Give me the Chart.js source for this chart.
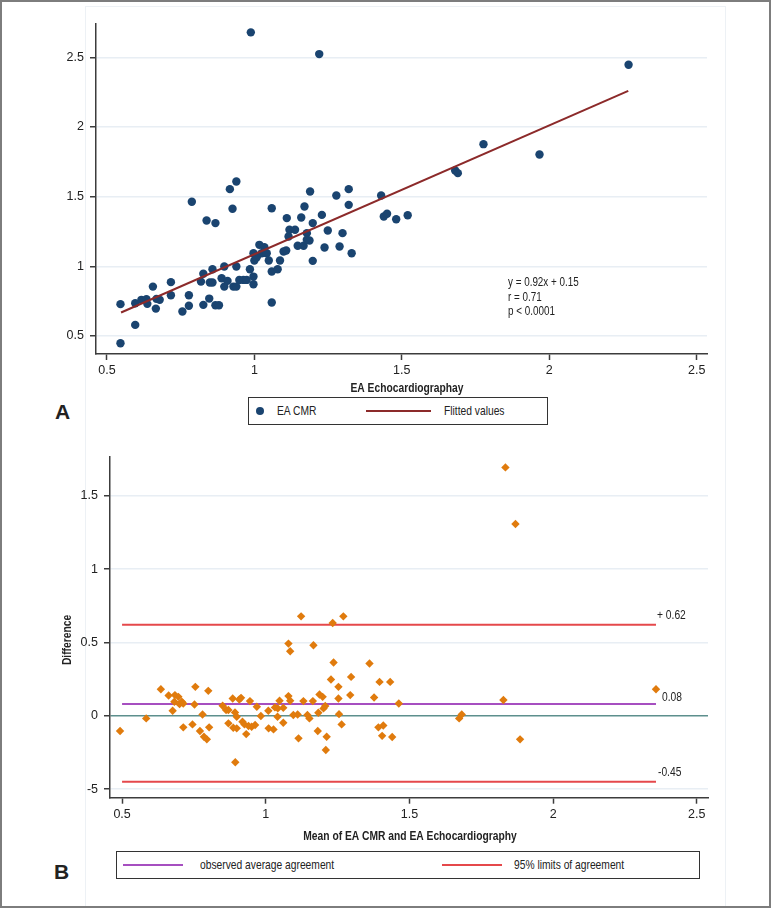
<!DOCTYPE html>
<html>
<head>
<meta charset="utf-8">
<script src="https://cdn.jsdelivr.net/npm/chart.js@4.4.1/dist/chart.umd.min.js"></script>
<style>
  body { margin: 0; background: #fff; }
  #page { position: relative; width: 771px; height: 908px; overflow: hidden; background: #fff;
          font-family: "Liberation Sans", Arial, sans-serif; color: #222; }
  .abs { position: absolute; }
  .frame { left: 0; top: 0; width: 771px; height: 908px; box-sizing: border-box; border: 2px solid #7d7d7d; pointer-events: none; }
  .region { left: 85px; top: 6px; width: 641px; height: 902px; box-sizing: border-box; border: 1px solid #edf1f5; }
  .legend { box-sizing: border-box; border: 1.5px solid #333; background: #fff; }
  .lg-text { font-size: 13px; line-height: 16px; white-space: nowrap; transform: scaleX(0.79); transform-origin: 0 50%; }
  .lg-line { height: 2px; }
  .panel { font-weight: bold; font-size: 21px; }
</style>
</head>
<body>
<div id="page">
  <div class="abs region"></div>
  <div class="abs" style="left:0;top:0;width:771px;height:400px;"><canvas id="chartA"></canvas></div>
  <div class="abs" style="left:0;top:440px;width:771px;height:405px;"><canvas id="chartB"></canvas></div>

  <div class="abs panel" style="left:55px;top:400px;">A</div>
  <div class="abs legend" style="left:248px;top:397px;width:300px;height:28px;">
    <div class="abs" style="left:7px;top:9px;width:8px;height:8px;border-radius:50%;background:#1a4470;"></div>
    <div class="abs lg-text" style="left:28px;top:5px;">EA CMR</div>
    <div class="abs lg-line" style="left:117px;top:12px;width:65px;background:#8c2a2a;"></div>
    <div class="abs lg-text" style="left:195px;top:5px;">Flitted values</div>
  </div>

  <div class="abs panel" style="left:54px;top:860px;">B</div>
  <div class="abs legend" style="left:116px;top:851px;width:584px;height:28px;">
    <div class="abs lg-line" style="left:6px;top:12px;width:60px;background:#a64fc0;"></div>
    <div class="abs lg-text" style="left:83px;top:5px;">observed average agreement</div>
    <div class="abs lg-line" style="left:325px;top:12px;width:60px;background:#e5484b;"></div>
    <div class="abs lg-text" style="left:397px;top:5px;">95% limits of agreement</div>
  </div>
  <div class="abs frame"></div>
</div>

<script>
// ---- panel A: EA CMR vs EA Echocardiography ----
const echoEA = [0.988, 1.22, 0.546, 0.546, 0.596, 0.596, 0.617, 0.634, 0.637, 0.656, 0.668, 0.679, 0.666,
  0.717, 0.717, 0.756, 0.778, 0.778, 0.788, 0.827, 0.819, 0.827, 0.838, 0.847, 0.849, 0.858, 0.858, 0.868,
  0.868, 0.88, 0.889, 0.898, 0.898, 0.909, 0.917, 0.926, 0.929, 0.939, 0.939, 0.939, 0.949, 0.963, 0.974,
  0.985, 0.997, 0.997, 0.997, 1.0, 1.008, 1.017, 1.025, 1.034, 1.042, 1.049, 1.059, 1.059, 1.059, 1.079,
  1.087, 1.099, 1.108, 1.11, 1.116, 1.119, 1.138, 1.147, 1.159, 1.17, 1.167, 1.178, 1.178, 1.187, 1.189,
  1.198, 1.198, 1.229, 1.238, 1.249, 1.278, 1.289, 1.299, 1.32, 1.32, 1.33, 1.43, 1.439, 1.45, 1.481,
  1.52, 1.681, 1.69, 1.777, 1.967, 2.269];
const cmrEA = [2.68, 2.524, 0.728, 0.447, 0.579, 0.735, 0.759, 0.763, 0.73, 0.854, 0.766, 0.759, 0.696,
  0.886, 0.792, 0.675, 0.792, 0.716, 1.463, 0.946, 0.89, 0.723, 1.329, 0.768, 0.883, 0.979, 0.883, 1.31,
  0.72, 0.72, 0.914, 0.998, 0.854, 0.895, 1.554, 1.413, 0.854, 1.609, 0.998, 0.854, 0.902, 0.902, 0.902,
  0.979, 0.926, 1.094, 0.871, 1.041, 1.065, 1.154, 1.094, 1.137, 1.094, 1.041, 1.417, 0.962, 0.74, 0.979,
  1.041, 1.106, 1.113, 1.346, 1.214, 1.262, 1.262, 1.147, 1.35, 1.429, 1.147, 1.238, 1.19, 1.185, 1.537,
  1.039, 1.31, 1.369, 1.135, 1.257, 1.508, 1.142, 1.238, 1.554, 1.441, 1.094, 1.508, 1.357, 1.377, 1.338,
  1.367, 1.688, 1.669, 1.877, 1.803, 2.447];
const fitX = [0.548, 2.268];
const fitY = [0.668, 2.26];
const axisAX = [0.5, 1, 1.5, 2, 2.5];
const axisAY = [0.5, 1, 1.5, 2, 2.5];
const statsLines = ['y = 0.92x + 0.15', 'r = 0.71', 'p < 0.0001'];

// ---- panel B: Bland-Altman ----
const meanEA = [0.493, 0.584, 0.635, 0.662, 0.676, 0.684, 0.682, 0.696, 0.7, 0.708, 0.713, 0.713, 0.745,
  0.752, 0.755, 0.771, 0.78, 0.785, 0.795, 0.8, 0.803, 0.85, 0.862, 0.87, 0.87, 0.885, 0.887, 0.893,
  0.894, 0.899, 0.899, 0.908, 0.914, 0.919, 0.926, 0.932, 0.94, 0.945, 0.951, 0.963, 0.969, 0.983,
  1.009, 1.01, 1.027, 1.032, 1.041, 1.042, 1.048, 1.061, 1.061, 1.079, 1.085, 1.079, 1.085, 1.096,
  1.114, 1.111, 1.123, 1.131, 1.145, 1.152, 1.166, 1.164, 1.181, 1.183, 1.187, 1.198, 1.201, 1.209,
  1.207, 1.212, 1.227, 1.233, 1.236, 1.253, 1.253, 1.255, 1.264, 1.27, 1.297, 1.294, 1.361, 1.377,
  1.392, 1.396, 1.405, 1.409, 1.433, 1.44, 1.463, 1.673, 1.682, 1.827, 1.834, 1.869, 1.885, 2.358];
const diffEA = [-0.104, -0.018, 0.181, 0.138, 0.034, 0.141, 0.095, 0.129, 0.079, 0.095, 0.084, -0.079,
  -0.059, 0.077, 0.197, -0.104, 0.009, -0.143, -0.161, 0.17, -0.079, 0.068, 0.039, 0.039, -0.052, 0.118,
  -0.082, 0.023, -0.317, -0.007, -0.086, 0.111, 0.122, -0.041, -0.059, -0.125, -0.07, 0.1, -0.075,
  -0.063, 0.061, -0.002, 0.034, -0.086, -0.093, 0.057, -0.007, 0.05, 0.102, -0.048, 0.054, 0.492, 0.44,
  0.134, 0.102, 0.005, -0.154, 0.009, 0.678, 0.1, 0.005, -0.018, 0.481, 0.1, -0.104, 0.02, 0.145, 0.129,
  0.05, -0.234, 0.066, -0.143, 0.247, 0.633, 0.363, 0.197, 0.118, 0.011, -0.059, 0.678, 0.265, 0.141,
  0.356, 0.125, -0.079, 0.231, -0.137, -0.066, 0.231, -0.145, 0.084, -0.018, 0.009, 0.107, 1.694, 1.308,
  -0.161, 0.181];
const meanDiff = 0.08;
const limitsOfAgreement = [0.62, -0.45];
const refLineX = [0.5, 2.358];
const limitLabels = ['+ 0.62', '0.08', '-0.45'];
const axisBX = [0.5, 1, 1.5, 2, 2.5];
const axisBY = [-0.5, 0, 0.5, 1, 1.5];
const axisBYLabels = ['-5', '0', '0.5', '1', '1.5'];

const FONT = '"Liberation Sans", Arial, sans-serif';
Chart.defaults.font.family = FONT;
Chart.defaults.font.size = 12.5;
Chart.defaults.color = '#222';
Chart.defaults.animation = false;

const AXIS = '#3c3c3c';
const GRID = '#e8eef4';
const NARROW = 0.79; // the original uses a condensed face

// draws free text (titles, regression stats, limit labels), squeezed horizontally
const textMarks = {
  id: 'textMarks',
  afterDatasetsDraw(chart, args, opts) {
    const ctx = chart.ctx;
    const xs = chart.scales.x, ys = chart.scales.y;
    (opts.items || []).forEach(it => {
      ctx.save();
      ctx.font = it.font || ('13px ' + FONT);
      ctx.fillStyle = '#222';
      ctx.textAlign = it.align || 'left';
      ctx.textBaseline = 'middle';
      const px = it.px != null ? it.px : xs.getPixelForValue(it.x) + (it.dx || 0);
      const py = it.py != null ? it.py : ys.getPixelForValue(it.y) + (it.dy || 0);
      ctx.translate(px, py);
      if (it.rotate) ctx.rotate(it.rotate);
      ctx.scale(NARROW, 1);
      ctx.fillText(it.text, 0, 0);
      ctx.restore();
    });
  }
};

function setTicks(values) {
  return scale => { scale.ticks = values.map(v => ({ value: v })); };
}

function tickLabel(values, labels) {
  return (v, i) => labels ? labels[i] : String(v);
}

// ---- chart A ----
new Chart(document.getElementById('chartA'), {
  type: 'scatter',
  data: {
    datasets: [
      {
        label: 'EA CMR',
        data: echoEA.map((x, i) => ({ x: x, y: cmrEA[i] })),
        pointStyle: 'circle',
        pointRadius: 4.2,
        backgroundColor: '#1a4470',
        borderWidth: 0,
        order: 1
      },
      {
        type: 'line',
        label: 'Flitted values',
        data: fitX.map((x, i) => ({ x: x, y: fitY[i] })),
        borderColor: '#8c2a2a',
        borderWidth: 2,
        pointRadius: 0,
        order: 0
      }
    ]
  },
  options: {
    responsive: true,
    maintainAspectRatio: false,
    layout: { padding: { left: 0, right: 64, top: 24, bottom: 0 } },
    plugins: {
      legend: { display: false },
      tooltip: { enabled: false },
      textMarks: {
        items: statsLines.map((t, i) => ({ text: t, x: 1.86, y: 0.88, dy: i * 14.5, font: '12.5px ' + FONT }))
          .concat([{ text: 'EA Echocardiographay', px: 407, py: 388, align: 'center', font: 'bold 13px ' + FONT }])
      }
    },
    scales: {
      x: {
        type: 'linear', min: 0.463, max: 2.535,
        afterBuildTicks: setTicks(axisAX),
        afterFit: s => { s.height = 46; },
        grid: { drawOnChartArea: false, tickLength: 6, tickColor: AXIS, tickWidth: 1.5 },
        border: { display: true, color: AXIS, width: 1.5 },
        ticks: { padding: 3, callback: tickLabel(axisAX) }
      },
      y: {
        type: 'linear', min: 0.37, max: 2.74,
        afterBuildTicks: setTicks(axisAY),
        afterFit: s => { s.width = 96; },
        grid: { color: GRID, lineWidth: 1.5, tickLength: 6, tickColor: AXIS, tickWidth: 1.5 },
        border: { display: true, color: AXIS, width: 1.5 },
        ticks: { padding: 6, callback: tickLabel(axisAY) }
      }
    }
  },
  plugins: [textMarks]
});

// ---- chart B ----
const refLines = [
  { y: limitsOfAgreement[0], color: '#e5484b' },
  { y: meanDiff, color: '#a64fc0' },
  { y: limitsOfAgreement[1], color: '#e5484b' }
];

new Chart(document.getElementById('chartB'), {
  type: 'scatter',
  data: {
    datasets: [
      {
        label: 'Difference',
        data: meanEA.map((x, i) => ({ x: x, y: diffEA[i] })),
        pointStyle: 'rectRot',
        pointRadius: 4.2,
        backgroundColor: '#e07b0d',
        borderWidth: 0,
        order: 0
      }
    ].concat(refLines.map(r => ({
      type: 'line',
      data: refLineX.map(x => ({ x: x, y: r.y })),
      borderColor: r.color,
      borderWidth: 2,
      pointRadius: 0,
      order: 1
    })))
  },
  options: {
    responsive: true,
    maintainAspectRatio: false,
    layout: { padding: { left: 0, right: 63, top: 17, bottom: 0 } },
    plugins: {
      legend: { display: false },
      tooltip: { enabled: false },
      textMarks: {
        items: [
          { text: limitLabels[0], x: refLineX[1], y: limitsOfAgreement[0], dx: 1, dy: -9 },
          { text: limitLabels[1], x: refLineX[1], y: meanDiff, dx: 6, dy: -7 },
          { text: limitLabels[2], x: refLineX[1], y: limitsOfAgreement[1], dx: 2, dy: -9 },
          { text: 'Difference', px: 67, py: 200, rotate: -Math.PI / 2, align: 'center', font: 'bold 13px ' + FONT },
          { text: 'Mean of EA CMR and EA Echocardiography', px: 410, py: 396, align: 'center', font: 'bold 13px ' + FONT }
        ]
      }
    },
    scales: {
      x: {
        type: 'linear', min: 0.458, max: 2.539,
        afterBuildTicks: setTicks(axisBX),
        afterFit: s => { s.height = 47.3; },
        grid: { drawOnChartArea: false, tickLength: 6, tickColor: AXIS, tickWidth: 1.5 },
        border: { display: true, color: AXIS, width: 1.5 },
        ticks: { padding: 3, callback: tickLabel(axisBX) }
      },
      y: {
        type: 'linear', min: -0.559, max: 1.765,
        afterBuildTicks: setTicks(axisBY),
        afterFit: s => { s.width = 110; },
        grid: {
          color: c => (c.tick && c.tick.value === 0) ? '#5d8f8d' : GRID,
          lineWidth: 1.5, tickLength: 6, tickColor: AXIS, tickWidth: 1.5
        },
        border: { display: true, color: AXIS, width: 1.5 },
        ticks: { padding: 6, callback: tickLabel(axisBY, axisBYLabels) }
      }
    }
  },
  plugins: [textMarks]
});
</script>
</body>
</html>
